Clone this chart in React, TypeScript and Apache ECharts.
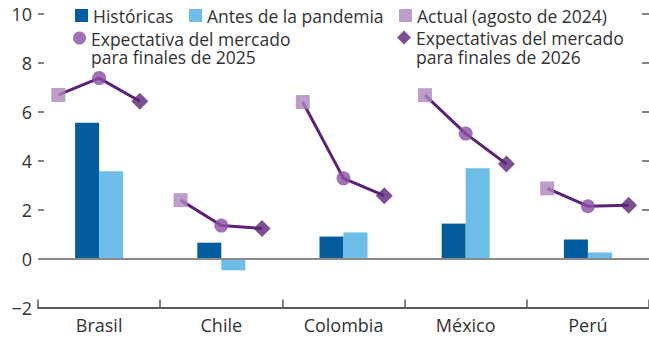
import React, { useEffect, useRef } from "react";
import * as echarts from "echarts";

const countries = ["Brasil", "Chile", "Colombia", "México", "Perú"];
const historicas = [5.55, 0.65, 0.9, 1.43, 0.78];
const antesPandemia = [3.57, -0.48, 1.07, 3.69, 0.25];
const actual2024 = [6.69, 2.39, 6.4, 6.68, 2.87];
const expect2025 = [7.38, 1.35, 3.28, 5.11, 2.14];
const expect2026 = [6.43, 1.23, 2.57, 3.87, 2.18];
const yTicks = [-2, 0, 2, 4, 6, 8, 10];

const NAME_H = "Históricas";
const NAME_A = "Antes de la pandemia";
const NAME_C = "Actual (agosto de 2024)";
const NAME_25 = "Expectativa del mercado para finales de 2025";
const NAME_26 = "Expectativas del mercado para finales de 2026";

const FONT = "'Open Sans', sans-serif";
const TXT = "#333333";

export default function App() {
  const ref = useRef<HTMLDivElement>(null);
  useEffect(() => {
    if (!ref.current) return;
    const chart = echarts.init(ref.current, undefined, { renderer: "svg" });

    // 15 slots: three per country (actual, 2025, 2026)
    const slots: string[] = [];
    countries.forEach((c) => {
      slots.push(c + "-a", c + "-25", c + "-26");
    });
    const slotData = (arr: number[], k: number) =>
      countries.map((c, i) => [slots[i * 3 + k], arr[i]]);

    const lineSeries = countries.map((c, i) => {
      const d: (number | null)[] = slots.map(() => null);
      d[i * 3] = actual2024[i];
      d[i * 3 + 1] = expect2025[i];
      d[i * 3 + 2] = expect2026[i];
      return {
        type: "line",
        name: "linea-" + c,
        xAxisIndex: 1,
        yAxisIndex: 0,
        data: d,
        symbol: "none",
        connectNulls: false,
        lineStyle: { color: "#5b2378", width: 3 },
        z: 3,
        silent: true,
      };
    });

    const legendBase = {
      padding: 0,
      itemWidth: 13,
      itemHeight: 13,
      textStyle: { fontFamily: FONT, fontSize: 17.5, color: TXT, lineHeight: 19 },
      selectedMode: false,
    };
    const richTwoLine = {
      a: { fontFamily: FONT, fontSize: 17.5, color: TXT, lineHeight: 38, verticalAlign: "bottom" },
      b: { fontFamily: FONT, fontSize: 17.5, color: TXT, lineHeight: 19 },
    };

    chart.setOption({
      animation: false,
      textStyle: { fontFamily: FONT },
      legend: [
        { ...legendBase, left: 75, top: 6, data: [{ name: NAME_H, icon: "rect" }] },
        { ...legendBase, left: 189, top: 6, data: [{ name: NAME_A, icon: "rect" }] },
        { ...legendBase, left: 399, top: 6, data: [{ name: NAME_C, icon: "rect" }] },
        {
          ...legendBase,
          left: 73,
          top: 9.5,
          data: [{ name: NAME_25, icon: "circle" }],
          formatter: () => "{a|Expectativa del mercado}\n{b|para finales de 2025}",
          textStyle: { ...legendBase.textStyle, rich: richTwoLine },
        },
        {
          ...legendBase,
          left: 397,
          top: 9,
          itemWidth: 14,
          itemHeight: 14,
          data: [{ name: NAME_26, icon: "diamond" }],
          formatter: () => "{a|Expectativas del mercado}\n{b|para finales de 2026}",
          textStyle: { ...legendBase.textStyle, rich: richTwoLine },
        },
      ],
      grid: { left: 38, right: -3, top: 14, bottom: 29.5, containLabel: false },
      xAxis: [
        {
          type: "category",
          data: countries,
          position: "bottom",
          axisLine: { onZero: false, lineStyle: { color: "#5a5a5a", width: 2 } },
          axisTick: {
            show: true,
            inside: true,
            length: 8,
            interval: 0,
            lineStyle: { color: "#5a5a5a", width: 1.5 },
          },
          axisLabel: { fontFamily: FONT, fontSize: 18, color: TXT, margin: 8 },
          splitLine: { show: false },
        },
        {
          type: "category",
          data: slots,
          show: false,
          boundaryGap: true,
        },
      ],
      yAxis: [
        {
          type: "value",
          min: -2,
          max: 10,
          interval: 2,
          axisLine: { show: false },
          axisTick: { show: true, inside: true, length: 6, lineStyle: { color: "#5a5a5a", width: 1.5 } },
          axisLabel: {
            fontFamily: FONT,
            fontSize: 18,
            color: TXT,
            margin: 6,
            formatter: (v: number) => (yTicks.includes(v) ? (v < 0 ? "\u2212" + Math.abs(v) : String(v)) : ""),
          },
          splitLine: { show: false },
        },
        {
          type: "value",
          position: "right",
          min: -2,
          max: 10,
          interval: 2,
          axisLine: { show: false },
          axisTick: { show: true, inside: true, length: 7, lineStyle: { color: "#5a5a5a", width: 1.5 } },
          axisLabel: { show: false },
          splitLine: { show: false },
        },
      ],
      series: [
        {
          type: "bar",
          name: NAME_H,
          data: historicas,
          barWidth: 24,
          barGap: "0%",
          itemStyle: { color: "#035c9e" },
          markLine: {
            silent: true,
            symbol: "none",
            label: { show: false },
            lineStyle: { color: "#8a8a8a", width: 2, type: "solid" },
            data: [{ yAxis: 0 }],
          },
        },
        {
          type: "bar",
          name: NAME_A,
          data: antesPandemia,
          barWidth: 24,
          barGap: "0%",
          itemStyle: { color: "#6ebde9" },
        },
        ...lineSeries,
        {
          type: "scatter",
          name: NAME_C,
          xAxisIndex: 1,
          data: slotData(actual2024, 0),
          symbol: "rect",
          symbolSize: 14,
          itemStyle: { color: "#ad84bd" },
          z: 4,
        },
        {
          type: "scatter",
          name: NAME_25,
          xAxisIndex: 1,
          data: slotData(expect2025, 1),
          symbol: "circle",
          symbolSize: 14,
          itemStyle: { color: "#8a50a4" },
          z: 4,
        },
        {
          type: "scatter",
          name: NAME_26,
          xAxisIndex: 1,
          data: slotData(expect2026, 2),
          symbol: "diamond",
          symbolSize: 17,
          itemStyle: { color: "#5b2577" },
          z: 4,
        },
      ],
    });
    return () => chart.dispose();
  }, []);
  return <div ref={ref} style={{ width: 649, height: 337, position: "absolute", left: 0, top: 0 }} />;
}
